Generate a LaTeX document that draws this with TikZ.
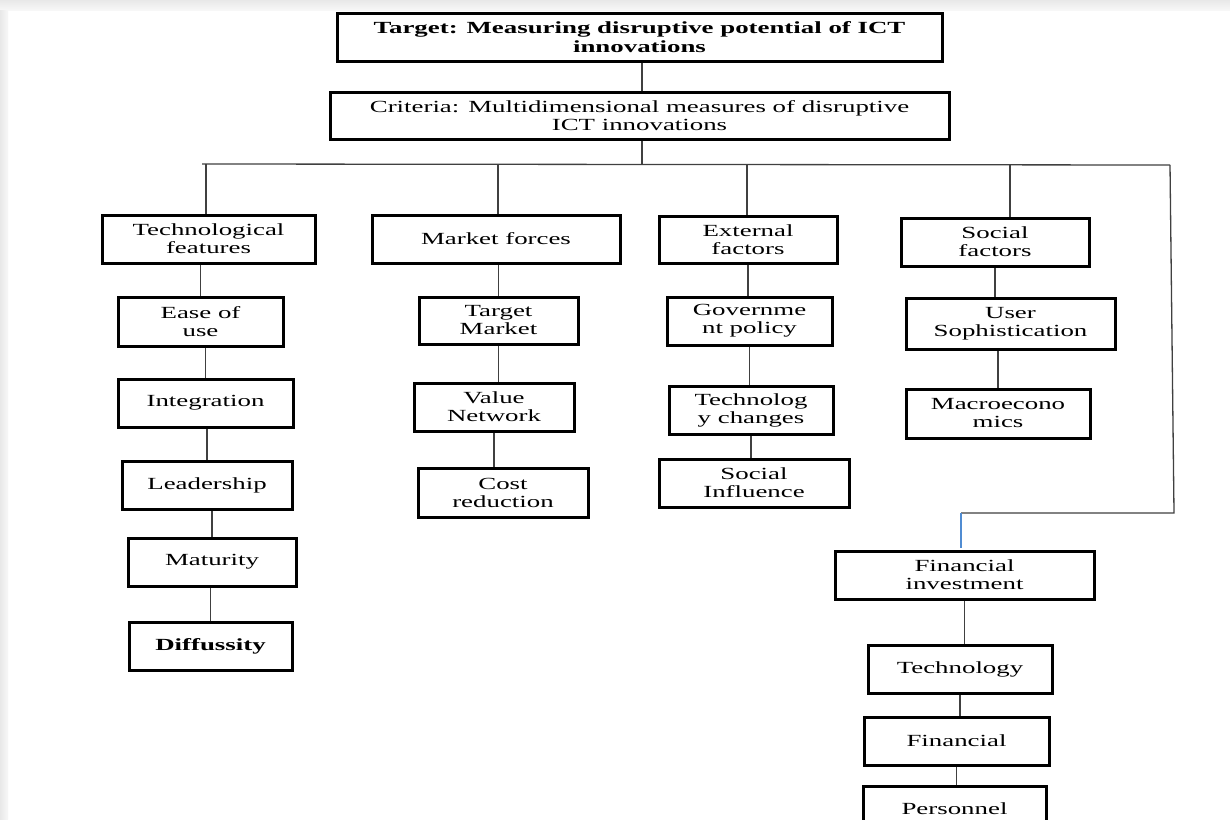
\documentclass[tikz,border=0pt]{standalone}
\usepackage{fontspec}
\setmainfont{Liberation Serif}[FakeStretch=1.58]
\definecolor{stubblue}{RGB}{80,140,210}
\begin{document}
\begin{tikzpicture}[x=1pt,y=-1pt,
  box/.style={draw=black, line width=3pt, inner sep=0pt, align=center,
    font=\fontsize{17}{18}\selectfont},
  boldbox/.style={box, font=\fontsize{17}{18.5}\selectfont\bfseries},
  conn/.style={draw=black!75, line width=1.3pt}]
\useasboundingbox (0,0) rectangle (1230,819);
\fill[white] (0,0) rectangle (1230,819);
\shade[top color=black!9, bottom color=black!3] (0,0) rectangle (1230,10);
\shade[left color=black!9, right color=black!3] (0,10) rectangle (8,819);

% top
\node[boldbox, minimum width=605pt, minimum height=48pt] (tgt) at (639.5,37) {Target: Measuring disruptive potential of ICT\\innovations};
\node[box, minimum width=619pt, minimum height=47pt] (crit) at (639.5,115.5) {Criteria: Multidimensional measures of disruptive\\ICT innovations};

% technological column
\node[box, minimum width=213pt, minimum height=48pt] (tf) at (208.5,239) {Technological\\features};
\node[box, minimum width=165pt, minimum height=49pt] (eou) at (200.5,321.5) {Ease of\\use};
\node[box, minimum width=175pt, minimum height=48pt] (integ) at (205.5,403) {Integration};
\node[box, minimum width=170pt, minimum height=48pt] (lead) at (207,485) {Leadership};
\node[box, minimum width=168pt, minimum height=48pt] (mat) at (212,562) {Maturity};
\node[boldbox, minimum width=163pt, minimum height=48pt] (diff) at (210.5,646) {Diffussity};

% market column
\node[box, minimum width=248pt, minimum height=48pt] (mf) at (496,239) {Market forces};
\node[box, minimum width=159pt, minimum height=47pt] (tm) at (498.5,320.5) {Target\\Market};
\node[box, minimum width=160pt, minimum height=48pt] (vn) at (494,407) {Value\\Network};
\node[box, minimum width=170pt, minimum height=49pt] (cr) at (503,492.5) {Cost\\reduction};

% external column
\node[box, minimum width=178pt, minimum height=47pt] (ef) at (748,239.5) {External\\factors};
\node[box, minimum width=165pt, minimum height=48pt] (gp) at (749.5,321) {Governme\\nt policy};
\node[box, minimum width=164pt, minimum height=48pt] (tc) at (751,410) {Technolog\\y changes};
\node[box, minimum width=190pt, minimum height=48pt] (si) at (754,483) {Social\\Influence};

% social column
\node[box, minimum width=188pt, minimum height=48pt] (sf) at (995,242) {Social\\factors};
\node[box, minimum width=209pt, minimum height=51pt] (us) at (1010.5,323.5) {User\\Sophistication};
\node[box, minimum width=184pt, minimum height=49pt] (me) at (998,413.5) {Macroecono\\mics};

% financial column
\node[box, minimum width=259pt, minimum height=48pt] (fi) at (964.5,575) {Financial\\investment};
\node[box, minimum width=184pt, minimum height=48pt] (tech) at (960,669) {Technology};
\node[box, minimum width=185pt, minimum height=48pt] (fin) at (956.5,741) {Financial};
\node[box, minimum width=183pt, minimum height=46pt] (pers) at (954.5,809) {Personnel};

% junction coordinates
\coordinate (j0) at (642,164);
\coordinate (bl) at (202,164);
\coordinate (br) at (1170,165);
\coordinate (c1) at (206,164);
\coordinate (c2) at (498,164);
\coordinate (c3) at (747,165);
\coordinate (c4) at (1010,165);
\coordinate (corner) at (1174,513);
\coordinate (fend) at (961,513);
\coordinate (fstub) at (961,548);

% connectors
\draw[conn] (tgt.south -| j0) -- (crit.north -| j0);
\draw[conn] (crit.south -| j0) -- (j0);
\draw[conn] (bl) -- (br);
\draw[conn] (c1) -- (c1 |- tf.north);
\draw[conn] (c2) -- (c2 |- mf.north);
\draw[conn] (c3) -- (c3 |- ef.north);
\draw[conn] (c4) -- (c4 |- sf.north);
\draw[conn] (br) -- (corner) -- (fend);
\draw[stubblue, line width=1.3pt] (fend) -- (fstub);

\draw[conn] (eou.north) -- (eou.north |- tf.south);
\draw[conn] (integ.north) -- (integ.north |- eou.south);
\draw[conn] (lead.north) -- (lead.north |- integ.south);
\draw[conn] (mat.north) -- (mat.north |- lead.south);
\draw[conn] (diff.north) -- (diff.north |- mat.south);

\draw[conn] (tm.north) -- (tm.north |- mf.south);
\draw[conn] (vn.north -| tm) -- (tm.south);
\draw[conn] (cr.north -| vn) -- (vn.south);

\draw[conn] (gp.north -| ef) -- (ef.south);
\draw[conn] (tc.north -| gp) -- (gp.south);
\draw[conn] (si.north -| tc) -- (tc.south);

\draw[conn] (us.north -| sf) -- (sf.south);
\draw[conn] (me.north) -- (me.north |- us.south);

\draw[conn] (tech.north -| fi) -- (fi.south);
\draw[conn] (fin.north -| tech) -- (tech.south);
\draw[conn] (pers.north -| fin) -- (fin.south);
\end{tikzpicture}
\end{document}
